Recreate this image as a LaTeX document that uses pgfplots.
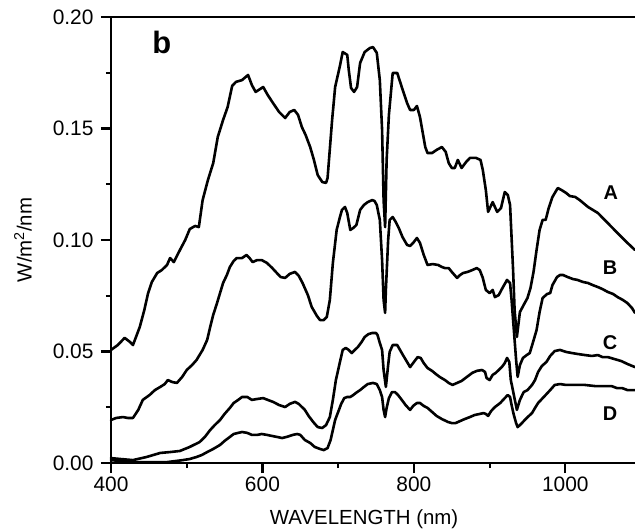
\documentclass[border=0pt]{standalone}
\usepackage{pgfplots}
\pgfplotsset{compat=1.18}
\usepackage{fontspec}
\setmainfont{Liberation Sans}

\begin{document}
\begin{tikzpicture}
\begin{axis}[
  at={(111bp,68bp)}, anchor=south west,
  scale only axis, width=524bp, height=446bp,
  xmin=400, xmax=1092, ymin=0, ymax=0.2,
  axis x line=box, axis y line=left,
  x axis line style={-}, y axis line style={-},
  axis line style={line width=2.8bp},
  xtick={400,600,800,1000}, xticklabels={400,600,800,1000},
  minor xtick={500,700,900},
  ytick={0,0.05,0.1,0.15,0.2}, yticklabels={0.00,0.05,0.10,0.15,0.20},
  minor ytick={0.025,0.075,0.125,0.175},
  xtick pos=bottom, ytick pos=left,
  tick align=outside,
  major tick length=10bp, minor tick length=5bp,
  every tick/.style={line width=2.2bp, black},
  tick label style={font=\fontsize{21}{21}\selectfont},
  yticklabel style={xshift=-4bp},
  /pgf/number format/assume math mode=true,
  xlabel={WAVELENGTH (nm)},
  ylabel={W/m\textsuperscript{2}/nm},
  every axis x label/.style={at={(axis description cs:0.483,-0.1256)},anchor=center,font=\fontsize{20.5}{20.5}\selectfont},
  every axis y label/.style={at={(axis description cs:-0.168,0.5)},anchor=center,rotate=90,font=\fontsize{20.5}{20.5}\selectfont},
  every axis plot post/.append style={black, mark=none, line width=2.6bp, line join=round, line cap=round},
  clip=false,
]
% Curve A
\addplot coordinates {
(400,0.0507)(409,0.0529)(418,0.0561)(425,0.0543)(429,0.0529)(434,0.0574)(438,0.0610)(444,0.0686)(449,0.0762)(454,0.0812)(461,0.0852)(467,0.0865)(474,0.0888)(478,0.0919)(483,0.0901)(491,0.0955)(498,0.1000)(504,0.1049)(511,0.1063)(516,0.1058)(521,0.1179)(528,0.1269)(535,0.1345)(541,0.1462)(548,0.1538)(554,0.1596)(560,0.1691)(565,0.1709)(573,0.1717)(581,0.1740)(586,0.1695)(591,0.1664)(601,0.1686)(607,0.1650)(614,0.1614)(622,0.1574)(630,0.1547)(636,0.1574)(642,0.1583)(647,0.1561)(652,0.1507)(657,0.1471)(663,0.1417)(668,0.1359)(673,0.1291)(679,0.1260)(684,0.1256)(686,0.1278)(692,0.1538)(696,0.1686)(702,0.1776)(706,0.1843)(712,0.1830)(714,0.1762)(717,0.1682)(721,0.1664)(725,0.1686)(729,0.1794)(735,0.1843)(742,0.1861)(746,0.1865)(751,0.1839)(755,0.1717)(758,0.1493)(760,0.1179)(762,0.1058)(764,0.1359)(767,0.1561)(770,0.1673)(772,0.1749)(778,0.1749)(784,0.1686)(791,0.1614)(795,0.1583)(800,0.1583)(804,0.1601)(808,0.1552)(815,0.1417)(818,0.1390)(824,0.1390)(830,0.1404)(837,0.1417)(842,0.1395)(846,0.1345)(850,0.1323)(854,0.1323)(858,0.1359)(863,0.1323)(869,0.1350)(874,0.1368)(882,0.1368)(888,0.1359)(891,0.1314)(895,0.1224)(898,0.1126)(904,0.1170)(910,0.1126)(915,0.1143)(920,0.1215)(924,0.1202)(927,0.1157)(931,0.0865)(933,0.0686)(936,0.0565)(940,0.0677)(945,0.0709)(950,0.0740)(954,0.0785)(958,0.0857)(962,0.0955)(966,0.1045)(970,0.1090)(974,0.1090)(978,0.1143)(983,0.1193)(990,0.1233)(995,0.1224)(1001,0.1211)(1006,0.1197)(1013,0.1193)(1019,0.1179)(1030,0.1148)(1043,0.1121)(1056,0.1076)(1069,0.1031)(1082,0.0987)(1092,0.0955)
};
% Curve B
\addplot coordinates {
(400,0.0193)(407,0.0202)(416,0.0206)(422,0.0202)(429,0.0202)(436,0.0238)(442,0.0283)(451,0.0305)(458,0.0327)(465,0.0341)(471,0.0354)(475,0.0372)(481,0.0363)(487,0.0359)(494,0.0386)(500,0.0417)(507,0.0439)(513,0.0462)(521,0.0507)(527,0.0552)(531,0.0610)(535,0.0664)(540,0.0717)(544,0.0762)(548,0.0807)(553,0.0843)(557,0.0879)(562,0.0906)(566,0.0919)(573,0.0919)(579,0.0933)(583,0.0919)(587,0.0901)(593,0.0910)(599,0.0910)(606,0.0897)(613,0.0874)(619,0.0852)(624,0.0834)(630,0.0830)(636,0.0848)(643,0.0857)(648,0.0839)(653,0.0807)(660,0.0753)(665,0.0700)(672,0.0659)(676,0.0641)(681,0.0641)(685,0.0655)(689,0.0731)(693,0.0897)(698,0.1045)(702,0.1099)(705,0.1135)(709,0.1148)(712,0.1121)(716,0.1045)(720,0.1054)(724,0.1067)(729,0.1135)(734,0.1157)(739,0.1170)(745,0.1179)(748,0.1175)(751,0.1157)(755,0.1090)(758,0.0910)(760,0.0731)(762,0.0673)(763,0.0776)(766,0.1000)(768,0.1090)(772,0.1103)(776,0.1081)(780,0.1054)(785,0.1013)(791,0.0978)(795,0.0973)(799,0.0987)(804,0.1009)(808,0.0987)(813,0.0933)(818,0.0888)(825,0.0892)(832,0.0888)(837,0.0879)(841,0.0874)(846,0.0874)(850,0.0857)(857,0.0830)(861,0.0843)(865,0.0852)(871,0.0857)(877,0.0865)(883,0.0874)(887,0.0865)(891,0.0830)(895,0.0776)(900,0.0762)(904,0.0776)(907,0.0744)(912,0.0753)(917,0.0785)(923,0.0821)(927,0.0807)(929,0.0731)(932,0.0596)(935,0.0462)(937,0.0386)(940,0.0439)(944,0.0471)(949,0.0484)(953,0.0493)(957,0.0538)(962,0.0596)(966,0.0677)(970,0.0740)(976,0.0758)(980,0.0762)(983,0.0798)(989,0.0834)(993,0.0843)(997,0.0843)(1003,0.0834)(1010,0.0825)(1016,0.0821)(1023,0.0812)(1030,0.0807)(1036,0.0798)(1043,0.0789)(1049,0.0780)(1056,0.0767)(1063,0.0758)(1069,0.0744)(1076,0.0731)(1082,0.0717)(1088,0.0695)(1092,0.0673)
};
% Curve C
\addplot coordinates {
(400,0.0022)(412,0.0018)(429,0.0013)(447,0.0027)(465,0.0045)(478,0.0049)(491,0.0054)(504,0.0072)(517,0.0094)(524,0.0117)(531,0.0148)(537,0.0170)(544,0.0193)(550,0.0220)(557,0.0247)(562,0.0269)(568,0.0283)(573,0.0296)(580,0.0296)(586,0.0283)(593,0.0287)(601,0.0291)(607,0.0283)(614,0.0274)(622,0.0260)(630,0.0251)(636,0.0265)(643,0.0274)(648,0.0265)(656,0.0238)(661,0.0211)(667,0.0184)(673,0.0161)(679,0.0157)(684,0.0170)(689,0.0206)(693,0.0283)(697,0.0372)(702,0.0448)(706,0.0507)(710,0.0516)(714,0.0507)(718,0.0493)(722,0.0507)(726,0.0520)(731,0.0543)(735,0.0565)(740,0.0578)(745,0.0583)(750,0.0583)(752,0.0574)(755,0.0538)(758,0.0507)(760,0.0417)(763,0.0341)(766,0.0439)(768,0.0498)(772,0.0529)(778,0.0529)(784,0.0493)(791,0.0453)(795,0.0430)(800,0.0453)(805,0.0475)(809,0.0471)(813,0.0448)(818,0.0426)(824,0.0413)(829,0.0399)(834,0.0386)(841,0.0372)(846,0.0359)(851,0.0350)(857,0.0359)(863,0.0368)(870,0.0386)(877,0.0404)(883,0.0413)(890,0.0417)(894,0.0408)(896,0.0381)(900,0.0372)(904,0.0395)(908,0.0404)(912,0.0417)(916,0.0430)(920,0.0448)(923,0.0471)(926,0.0453)(928,0.0372)(932,0.0305)(936,0.0238)(940,0.0283)(945,0.0318)(950,0.0327)(956,0.0350)(960,0.0372)(964,0.0408)(969,0.0435)(975,0.0453)(980,0.0480)(986,0.0502)(993,0.0507)(1001,0.0498)(1009,0.0493)(1016,0.0489)(1026,0.0484)(1035,0.0480)(1043,0.0484)(1049,0.0475)(1056,0.0475)(1065,0.0466)(1074,0.0457)(1082,0.0444)(1092,0.0430)
};
% Curve D
\addplot coordinates {
(400,0.0013)(412,0.0009)(429,0.0004)(451,0.0004)(474,0.0004)(495,0.0013)(504,0.0018)(513,0.0027)(520,0.0036)(527,0.0049)(535,0.0063)(544,0.0081)(550,0.0099)(557,0.0117)(562,0.0130)(568,0.0135)(573,0.0139)(580,0.0135)(586,0.0126)(593,0.0126)(599,0.0130)(606,0.0126)(613,0.0121)(619,0.0117)(626,0.0112)(632,0.0117)(640,0.0126)(646,0.0130)(650,0.0126)(656,0.0103)(663,0.0090)(669,0.0072)(676,0.0063)(681,0.0058)(686,0.0067)(690,0.0103)(696,0.0193)(700,0.0229)(704,0.0265)(708,0.0291)(712,0.0296)(716,0.0296)(720,0.0305)(725,0.0318)(729,0.0327)(734,0.0341)(739,0.0354)(746,0.0359)(751,0.0354)(755,0.0327)(758,0.0296)(760,0.0238)(762,0.0206)(764,0.0247)(767,0.0291)(771,0.0318)(775,0.0318)(779,0.0305)(784,0.0283)(789,0.0260)(795,0.0238)(799,0.0256)(804,0.0269)(808,0.0269)(813,0.0256)(818,0.0247)(824,0.0229)(830,0.0211)(837,0.0197)(845,0.0184)(850,0.0179)(855,0.0179)(861,0.0188)(867,0.0197)(874,0.0206)(880,0.0215)(887,0.0220)(892,0.0224)(895,0.0220)(898,0.0211)(902,0.0233)(907,0.0251)(914,0.0269)(920,0.0291)(924,0.0305)(927,0.0296)(929,0.0260)(932,0.0215)(935,0.0179)(937,0.0161)(940,0.0170)(944,0.0184)(949,0.0202)(956,0.0224)(960,0.0247)(964,0.0269)(969,0.0287)(974,0.0305)(980,0.0327)(986,0.0350)(993,0.0354)(1001,0.0350)(1013,0.0350)(1026,0.0350)(1039,0.0345)(1052,0.0345)(1061,0.0345)(1068,0.0336)(1075,0.0336)(1082,0.0327)(1092,0.0327)
};
\node[font=\fontsize{20}{20}\selectfont\bfseries] at (axis cs:1060,0.1211) {A};
\node[font=\fontsize{20}{20}\selectfont\bfseries] at (axis cs:1059,0.0874) {B};
\node[font=\fontsize{20}{20}\selectfont\bfseries] at (axis cs:1059,0.0538) {C};
\node[font=\fontsize{20}{20}\selectfont\bfseries] at (axis cs:1059,0.0220) {D};
\node[font=\fontsize{31}{31}\selectfont\bfseries] at (axis cs:467,0.1888) {b};
\end{axis}
\pgfresetboundingbox
\path[use as bounding box] (0,0) rectangle (635bp,531bp);
\end{tikzpicture}
\end{document}
